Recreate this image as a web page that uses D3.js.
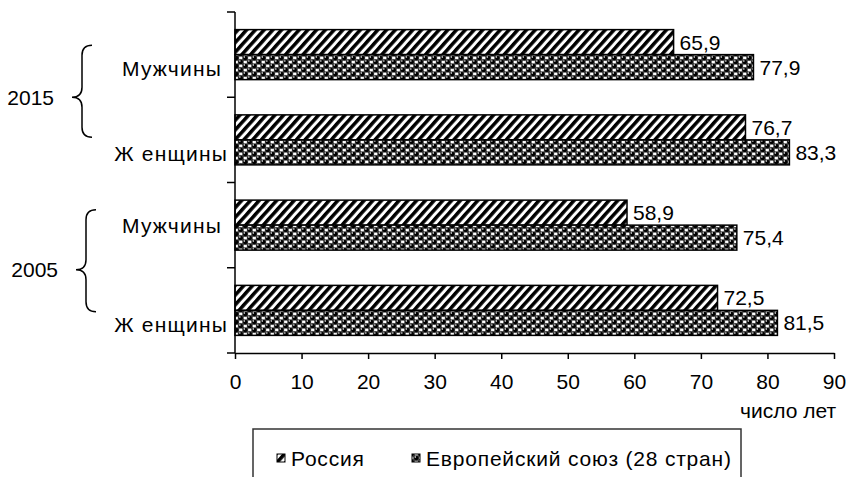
<!DOCTYPE html>
<html>
<head>
<meta charset="utf-8">
<script src="https://cdn.jsdelivr.net/npm/d3@7"></script>
<style>
  html, body { margin: 0; padding: 0; background: #fff; }
  svg { display: block; font-family: "Liberation Sans", Arial, sans-serif; }
  text { fill: #000; }
</style>
</head>
<body>
<svg id="chart" width="848" height="477"></svg>
<script>
// data
const categories = ['2015 Мужчины', '2015 Женщины', '2005 Мужчины', '2005 Женщины']
const catLabels = ['Мужчины', 'Ж енщины', 'Мужчины', 'Ж енщины']
const years = ['2015', '2005']
const series = ['Россия', 'Европейский союз (28 стран)']
const russia = [65.9, 76.7, 58.9, 72.5]
const eu = [77.9, 83.3, 75.4, 81.5]
const xTicks = [0, 10, 20, 30, 40, 50, 60, 70, 80, 90]

const svg = d3.select('#chart')
const FS = 21

const x = d3.scaleLinear().domain([0, 90]).range([235, 834])
const y = d3.scaleBand().domain(categories).range([12, 353])
const ySub = d3.scaleBand().domain(series).range([0, y.bandwidth()]).paddingOuter(0.705)

// patterns
const defs = svg.append('defs')
const hatch = defs.append('pattern').attr('id', 'p-ru').attr('patternUnits', 'userSpaceOnUse')
  .attr('width', 6.5).attr('height', 6.5).attr('patternTransform', 'rotate(42)')
hatch.append('rect').attr('width', 6.5).attr('height', 6.5).attr('fill', '#fff')
hatch.append('rect').attr('width', 3.5).attr('height', 6.5).attr('fill', '#000')

// "sphere" fill: checker of dark balls and white squares
const sph = defs.append('pattern').attr('id', 'p-eu').attr('patternUnits', 'userSpaceOnUse')
  .attr('width', 9).attr('height', 8)
sph.append('rect').attr('width', 9).attr('height', 8).attr('fill', '#000')
;[[6.75, 2], [2.25, 6]].forEach(([cx, cy]) => {
  sph.append('rect').attr('x', cx - 1.7).attr('y', cy - 1.5).attr('width', 3.4).attr('height', 3)
    .attr('fill', '#fff')
})
;[[2.25, 2], [6.75, 6]].forEach(([cx, cy]) => {
  sph.append('circle').attr('cx', cx).attr('cy', cy).attr('r', 2.7).attr('fill', '#000')
    .attr('stroke', '#777').attr('stroke-width', 0.5)
  sph.append('circle').attr('cx', cx - 0.9).attr('cy', cy - 1).attr('r', 0.8).attr('fill', '#fff')
})
const fills = { 'Россия': 'url(#p-ru)', 'Европейский союз (28 стран)': 'url(#p-eu)' }

// bars
const rows = categories.map((c, i) => ({ cat: c, vals: [russia[i], eu[i]] }))
const gBars = svg.append('g')
rows.forEach(r => {
  series.forEach((s, j) => {
    const v = r.vals[j]
    const yy = y(r.cat) + ySub(s)
    gBars.append('rect')
      .attr('x', x(0)).attr('y', yy)
      .attr('width', x(v) - x(0)).attr('height', ySub.bandwidth())
      .attr('fill', fills[s]).attr('stroke', '#000').attr('stroke-width', 1.5)
    gBars.append('text')
      .attr('x', x(v) + 6).attr('y', yy + ySub.bandwidth() / 2)
      .attr('dy', '0.36em').attr('font-size', FS)
      .text(d3.format('.1f')(v).replace('.', ','))
  })
})

// x axis
const xAxis = d3.axisBottom(x).tickValues(xTicks).tickSize(6).tickSizeOuter(0).tickPadding(15)
const gx = svg.append('g').attr('transform', `translate(0,${y.range()[1]})`).call(xAxis)
gx.select('.domain').attr('stroke', '#000').attr('stroke-width', 1.5)
gx.selectAll('.tick line').attr('stroke', '#000').attr('stroke-width', 1.5)
gx.selectAll('.tick text').attr('font-size', FS).attr('font-family', null).attr('fill', '#000')
svg.append('text').attr('x', 836).attr('y', 418).attr('text-anchor', 'end')
  .attr('font-size', FS).text('число лет')

// y axis: line plus ticks on band edges
const gy = svg.append('g').attr('stroke', '#000').attr('stroke-width', 1.5)
gy.append('line').attr('x1', x(0)).attr('x2', x(0)).attr('y1', y.range()[0]).attr('y2', y.range()[1])
const edges = categories.map(c => y(c)).concat([y.range()[1]])
edges.forEach(e => gy.append('line').attr('x1', x(0) - 8).attr('x2', x(0)).attr('y1', e).attr('y2', e))

// category labels
const labelDy = [14, 14, 0, 14]
categories.forEach((c, i) => {
  svg.append('text').attr('x', i % 2 ? 228 : 222).attr('y', y(c) + y.bandwidth() / 2 + labelDy[i])
    .attr('dy', '0.36em').attr('text-anchor', 'end').attr('font-size', FS)
    .attr('letter-spacing', 1.2).text(catLabels[i])
})

// year braces
years.forEach((yr, k) => {
  const tip = y(categories[k * 2 + 1]) + (k ? 2 : 0)
  const top = tip - (k ? 60 : 52), bot = tip + (k ? 42 : 40)
  const vx = k ? 86 : 82, tx = vx - 10
  const p = d3.path()
  p.moveTo(vx + 10, top)
  p.quadraticCurveTo(vx, top, vx, top + 10)
  p.lineTo(vx, tip - 10)
  p.quadraticCurveTo(vx, tip, tx, tip)
  p.quadraticCurveTo(vx, tip, vx, tip + 10)
  p.lineTo(vx, bot - 10)
  p.quadraticCurveTo(vx, bot, vx + 10, bot)
  svg.append('path').attr('d', p.toString()).attr('fill', 'none').attr('stroke', '#000').attr('stroke-width', 1.5)
  svg.append('text').attr('x', tx - 18).attr('y', tip).attr('dy', '0.36em')
    .attr('text-anchor', 'end').attr('font-size', FS).text(yr)
})

// legend
const lg = svg.append('g')
lg.append('rect').attr('x', 253).attr('y', 429).attr('width', 488).attr('height', 70)
  .attr('fill', '#fff').attr('stroke', '#333').attr('stroke-width', 1.5)
const legX = [277, 412]
series.forEach((s, j) => {
  lg.append('rect').attr('x', legX[j]).attr('y', 454).attr('width', 8).attr('height', 8)
    .attr('fill', fills[s]).attr('stroke', '#000').attr('stroke-width', 1)
  lg.append('text').attr('x', legX[j] + 14).attr('y', 458).attr('dy', '0.36em')
    .attr('font-size', FS).attr('letter-spacing', 0.8).text(s)
})
</script>
</body>
</html>
